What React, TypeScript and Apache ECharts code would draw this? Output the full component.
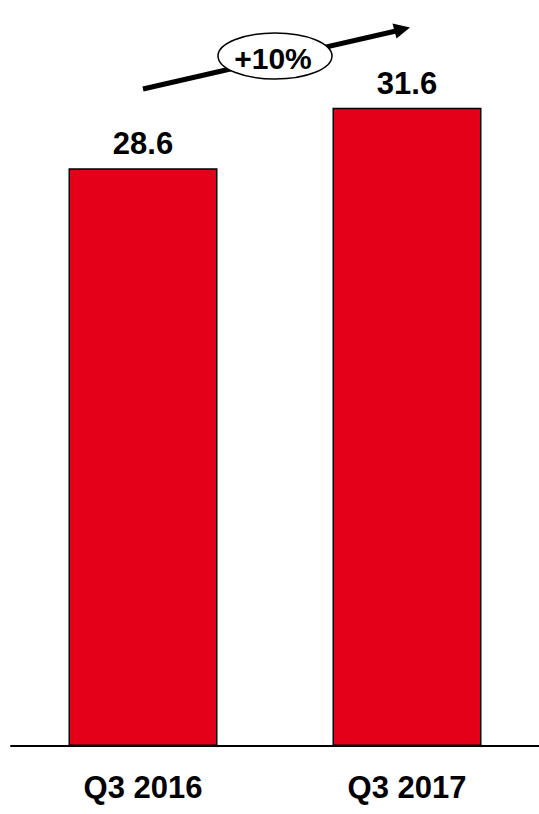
import React, { useEffect, useRef } from "react";
import * as echarts from "echarts";

const categories = ["Q3 2016", "Q3 2017"];
const values = [28.6, 31.6];
const growthLabel = "+10%";

const FONT = '"Liberation Sans", Arial, sans-serif';

export default function App() {
  const ref = useRef<HTMLDivElement>(null);
  useEffect(() => {
    if (!ref.current) return;
    const chart = echarts.init(ref.current, null, { renderer: "svg" });
    chart.setOption({
      animation: false,
      backgroundColor: "#ffffff",
      grid: { left: 11, right: -3, top: 39, bottom: 68, containLabel: false },
      xAxis: {
        type: "category",
        data: categories,
        axisLine: { show: true, lineStyle: { color: "#000", width: 2 } },
        axisTick: { show: false },
        axisLabel: {
          interval: 0,
          color: "#000",
          fontFamily: FONT,
          fontWeight: "bold",
          fontSize: 31,
          margin: 26,
        },
      },
      yAxis: {
        type: "value",
        min: 0,
        max: 35,
        show: false,
        splitLine: { show: false },
      },
      series: [
        {
          type: "bar",
          data: values,
          barWidth: 149,
          itemStyle: { color: "#E50019", borderColor: "#000", borderWidth: 1.5 },
          label: {
            show: true,
            position: "top",
            distance: 9,
            color: "#000",
            fontFamily: FONT,
            fontWeight: "bold",
            fontSize: 31,
            formatter: (p: any) => p.value.toFixed(1),
          },
        },
      ],
      graphic: [
        {
          type: "line",
          shape: { x1: 143, y1: 89, x2: 396, y2: 31 },
          style: { stroke: "#000", lineWidth: 5 },
          z: 10,
        },
        {
          type: "polygon",
          shape: { points: [[410, 27.6], [396.5, 38.5], [392.5, 23.5]] },
          style: { fill: "#000" },
          z: 10,
        },
        {
          type: "ellipse",
          shape: { cx: 275, cy: 56, rx: 57, ry: 23 },
          style: { fill: "#fff", stroke: "#000", lineWidth: 1.5 },
          z: 11,
        },
        {
          type: "text",
          x: 273,
          y: 58,
          style: {
            text: growthLabel,
            fill: "#000",
            font: `bold 30px ${FONT}`,
            align: "center",
            verticalAlign: "middle",
          },
          z: 12,
        },
      ],
    });
    return () => chart.dispose();
  }, []);
  return (
    <div
      ref={ref}
      style={{ position: "absolute", left: 0, top: 0, width: 539, height: 814 }}
    />
  );
}
